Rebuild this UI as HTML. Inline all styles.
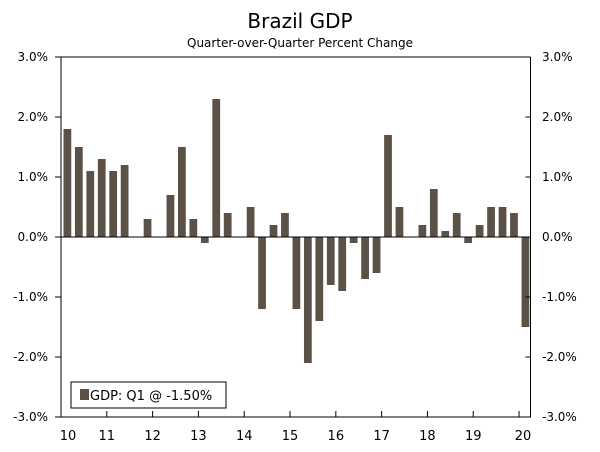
<!DOCTYPE html>
<html><head><meta charset="utf-8"><style>
body{margin:0;background:#fff;}
svg text{font-family:"DejaVu Sans","Liberation Sans",sans-serif;fill:#000;}
</style></head><body>
<svg width="600" height="447" viewBox="0 0 600 447">
<text x="300" y="28" text-anchor="middle" font-size="20">Brazil GDP</text>
<text x="300" y="47" text-anchor="middle" font-size="12">Quarter-over-Quarter Percent Change</text>
<g id="plot"></g>
</svg>
<script>
const values=[1.8,1.5,1.1,1.3, 1.1,1.2,0,0.3, 0,0.7,1.5,0.3, -0.1,2.3,0.4,0, 0.5,-1.2,0.2,0.4, -1.2,-2.1,-1.4,-0.8, -0.9,-0.1,-0.7,-0.6, 1.7,0.5,0,0.2, 0.8,0.1,0.4,-0.1, 0.2,0.5,0.5,0.4, -1.5];
const yTicks=[3,2,1,0,-1,-2,-3];
const yTickLabels=["3.0%","2.0%","1.0%","0.0%","-1.0%","-2.0%","-3.0%"];
const years=["10","11","12","13","14","15","16","17","18","19","20"];
const L=61,R=530.5,T=57,B=417,n=41;
const slot=(R-L)/n;
const y=v=>T+(3-v)*(B-T)/6;
const xq=i=>L+i*slot;
const g=document.getElementById('plot');
const NS='http://www.w3.org/2000/svg';
function mk(t,a){const e=document.createElementNS(NS,t);for(const k in a)e.setAttribute(k,a[k]);g.appendChild(e);return e;}
values.forEach((v,i)=>{
 const r=mk('rect',{x:xq(i)+2.5,width:slot-3.7,y:Math.min(y(v),y(0)),height:Math.abs(y(v)-y(0)),fill:'#5c5147'});
 
 
});
const ax=mk('path',{d:`M${L} ${T}H${R}M${L} ${T}V${B}H${R}V${T}M${L} ${y(0)}H${R}`,stroke:'#000','stroke-width':1,fill:'none'});


yTicks.forEach((v,i)=>{
 const yy=y(v);
 const tk=mk('path',{d:`M${L-6} ${yy}H${L}M${R-5} ${yy}H${R}`,stroke:'#000'});
 
 
 const t1=mk('text',{x:48,y:yy+4,'text-anchor':'end','font-size':12});
 t1.textContent=yTickLabels[i];
 
 
 const t2=mk('text',{x:542,y:yy+4,'font-size':12});
 t2.textContent=yTickLabels[i];
 
 
});
years.forEach((yr,i)=>{
 const xx=xq(i*4);
 const tk=mk('path',{d:`M${xx} ${B}V${B-6}`,stroke:'#000'});
 
 
 const t=mk('text',{x:xx+(i==0?7:i==10?4:0),y:440,'text-anchor':'middle','font-size':13});
 t.textContent=yr;
 
 
});
const lb=mk('rect',{x:71,y:382,width:155,height:26,fill:'#fff',stroke:'#000'});


const ls=mk('rect',{x:80,y:389,width:9,height:11,fill:'#5c5147'});


const lt=mk('text',{x:90,y:400,'font-size':13});
lt.textContent='GDP: Q1 @ -1.50%';


</script>
</body></html>
